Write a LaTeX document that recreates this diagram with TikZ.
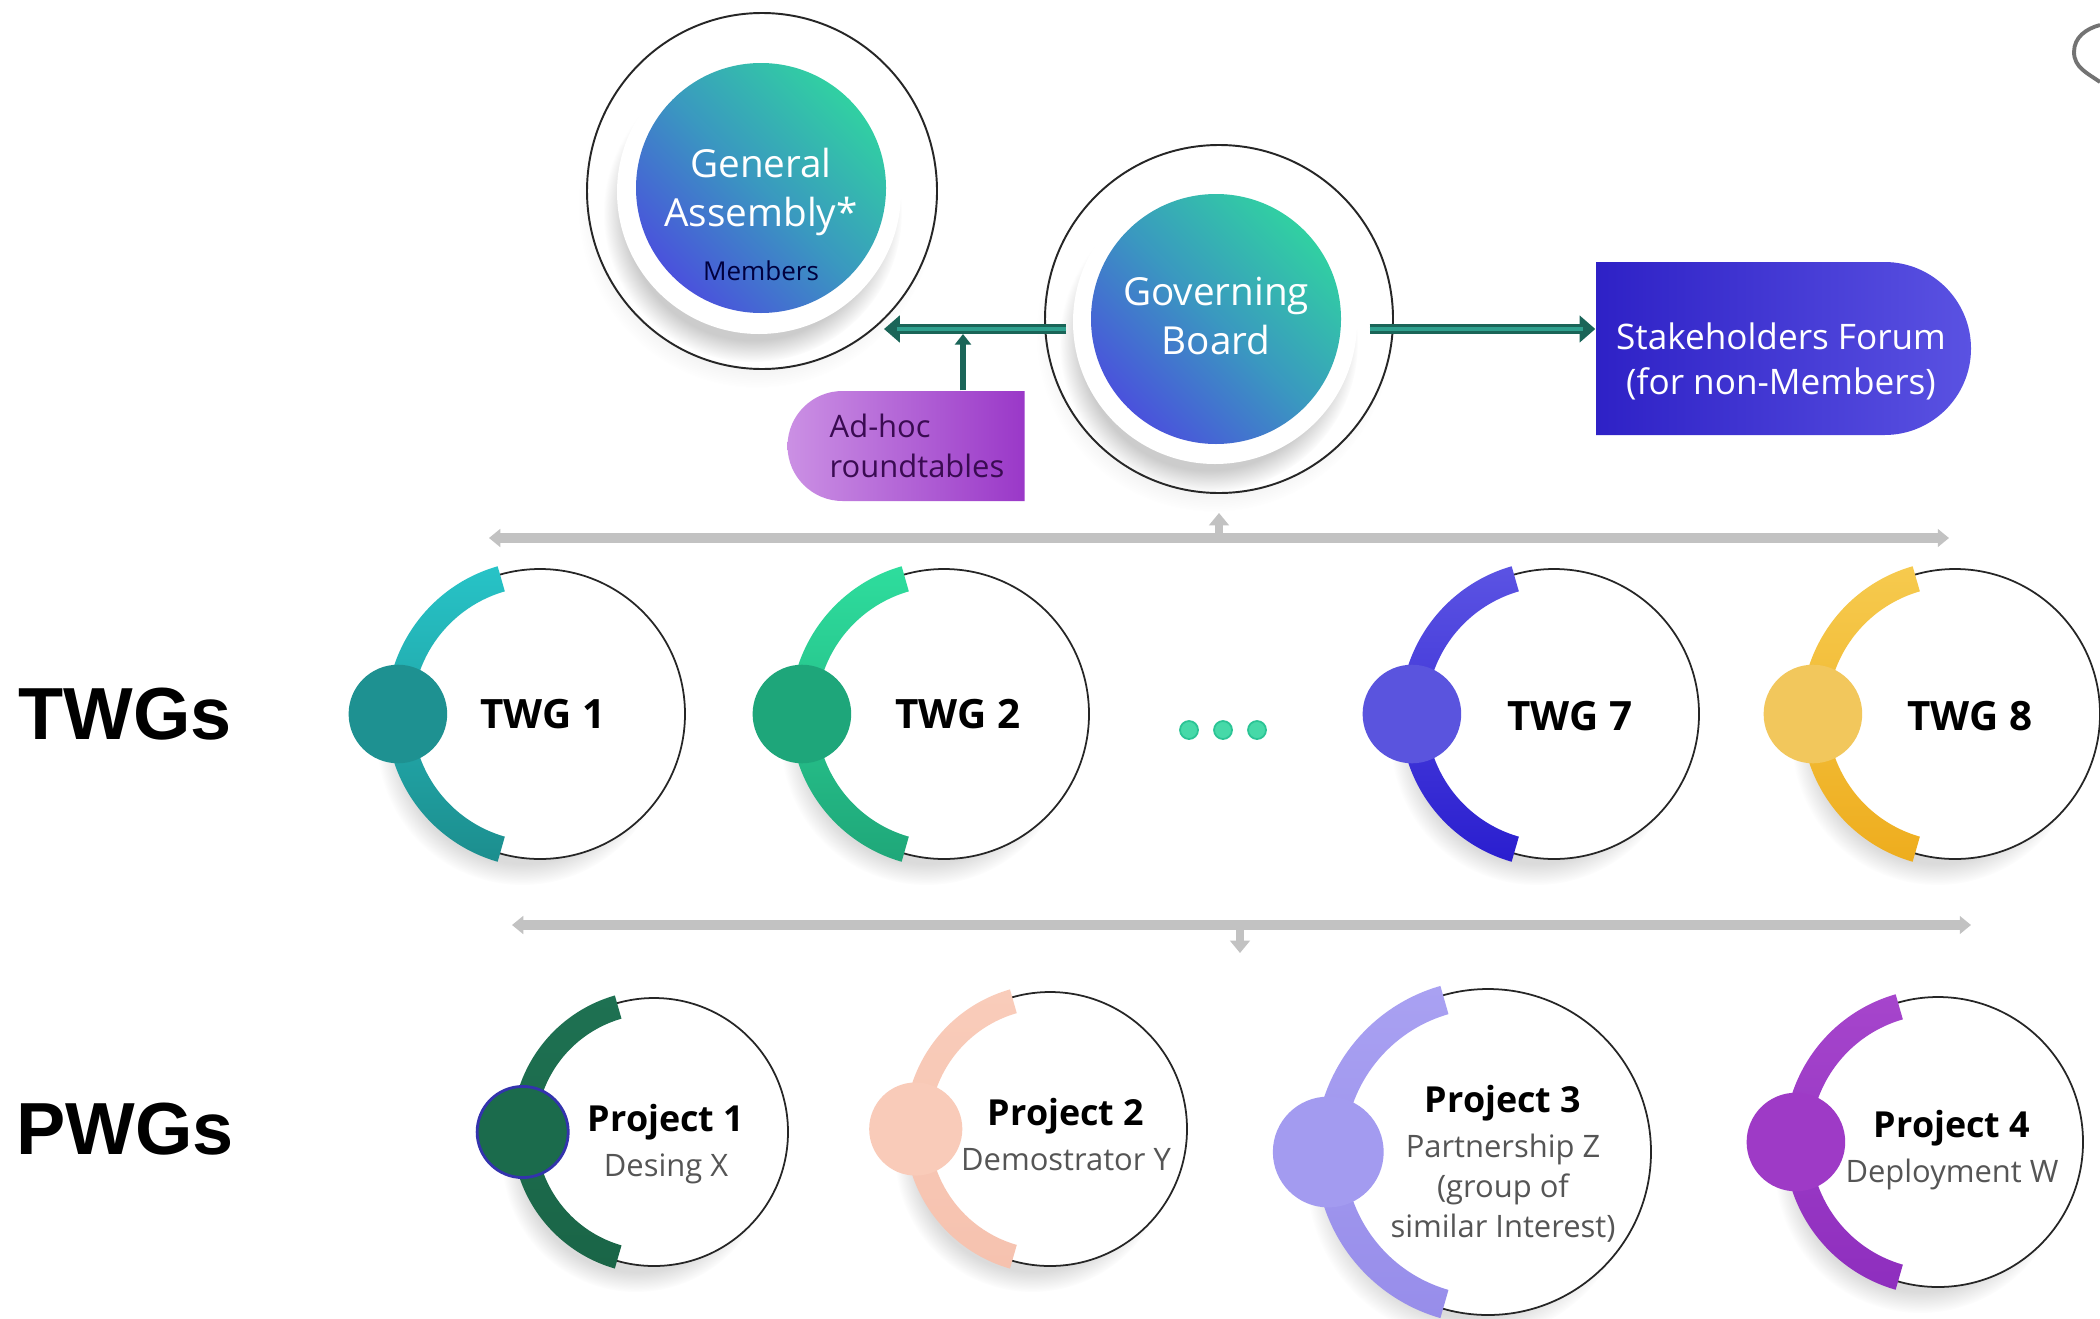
\documentclass[tikz,border=0pt]{standalone}
\usepackage{fontspec}
\setmainfont{Open Sans}
\newfontfamily\arialfont{Liberation Sans}
\usetikzlibrary{shapes.geometric,shapes.misc,shadows,calc,arrows.meta,fadings}
\definecolor{gTop}{HTML}{31D0A2}
\definecolor{gMid}{HTML}{3A98C0}
\definecolor{gBot}{HTML}{4A52DC}
\definecolor{tealD}{HTML}{1A6558}
\definecolor{tealL}{HTML}{2FA08E}
\definecolor{sfL}{HTML}{2E21C6}
\definecolor{sfR}{HTML}{5A52E2}
\definecolor{adL}{HTML}{CB90E4}
\definecolor{adR}{HTML}{9A38C8}
\definecolor{adT}{HTML}{3A0B52}
\definecolor{grayA}{HTML}{C2C2C2}
\definecolor{aT}{HTML}{27C3C7}\definecolor{aB}{HTML}{1C8E8E}\definecolor{kA}{HTML}{1E9191}
\definecolor{bT}{HTML}{2EDD9D}\definecolor{bB}{HTML}{1FA779}\definecolor{kB}{HTML}{1EA67A}
\definecolor{cT}{HTML}{5B53E3}\definecolor{cB}{HTML}{2A1ECF}\definecolor{kC}{HTML}{5A54DE}
\definecolor{dT}{HTML}{F6CA4E}\definecolor{dB}{HTML}{EEAD1E}\definecolor{kD}{HTML}{F2C75C}
\definecolor{p1T}{HTML}{1E7152}\definecolor{p1B}{HTML}{1A6547}\definecolor{p1K}{HTML}{1B6B4C}
\definecolor{p2T}{HTML}{F9CCBA}\definecolor{p2B}{HTML}{F6C2AF}\definecolor{p2K}{HTML}{F9CBB9}
\definecolor{p3T}{HTML}{A9A1F2}\definecolor{p3B}{HTML}{978DEA}\definecolor{p3K}{HTML}{A39BF0}
\definecolor{p4T}{HTML}{A645CC}\definecolor{p4B}{HTML}{8E2EBE}\definecolor{p4K}{HTML}{9E3AC6}
\definecolor{dotF}{HTML}{46D9A8}\definecolor{dotE}{HTML}{2BC495}
\definecolor{subT}{HTML}{555555}
\newcommand\myband[4]{\shade[top color=#3, bottom color=#4] ($(#1)+(106:{1.06*#2})$) arc[start angle=106, end angle=254, radius={1.06*#2}] -- ($(#1)+(254:{0.88*#2})$) arc[start angle=254, end angle=106, radius={0.88*#2}] -- cycle;}
\newcommand\mygroup[8]{%
  \node[wcirc, minimum size=#4*0.2mm] (#1) at (#2,#3) {};
  \myband{#1}{#4}{#5}{#6}
  \node[knob, fill=#7, minimum size=#4*0.068mm, #8] (#1k) at ($(#1)+(-0.98*#4,0)$) {};
}
\begin{document}
\begin{tikzpicture}[x=0.1mm,y=0.1mm,
  outerring/.style={draw=black!85, line width=0.55pt, fill=white, inner sep=0pt,
     circular drop shadow={shadow xshift=-0.5mm, shadow yshift=-1.5mm, opacity=0.12, shadow scale=1.02}},
  gdisc/.style={circle, inner sep=0pt, top color=gTop, bottom color=gBot, middle color=gMid, shading angle=-45},
  wtext/.style={text=white, align=center, font=\fontsize{11}{14}\selectfont},
  dblarrow/.style={tealL, line width=1.1pt, shorten >=3.6pt,
     preaction={draw=tealD, line width=2.7pt, shorten >=0pt, -{Triangle[length=4.5pt,width=7.5pt]}}},
  grayarrow/.style={grayA, line width=2.6pt, {Triangle[length=3.2pt,width=5pt]}-{Triangle[length=3.2pt,width=5pt]}},
  smallgray/.style={grayA, line width=2.2pt, -{Triangle[length=3.5pt,width=5.5pt]}},
  wcirc/.style={circle, draw=black!85, line width=0.5pt, fill=white, inner sep=0pt,
     circular drop shadow={shadow xshift=-1.8mm, shadow yshift=-2.6mm, opacity=0.28, shadow scale=1.0}},
  knob/.style={circle, inner sep=0pt},
  twgtext/.style={font=\bfseries\fontsize{11.5}{14}\selectfont},
  ptext/.style={align=center, text=subT, font=\fontsize{8.8}{11.3}\selectfont},
  sidelabel/.style={font=\arialfont\bfseries\fontsize{21}{24}\selectfont},
  ellipsis/.style={circle, fill=dotF, draw=dotE, line width=0.5pt, inner sep=0pt, minimum size=1.8mm}
]
\useasboundingbox (0,0) rectangle (2100,-1318);
\fill[white] (0,0) rectangle (2100,-1318);

% gray connector bars
\coordinate (g1l) at (489,-538);
\coordinate (g1r) at (1949,-538);
\coordinate (g2l) at (512,-925);
\coordinate (g2r) at (1971,-925);
\coordinate (g2m) at (1240,-925);
\coordinate (g2d) at (1240,-953);
\draw[grayarrow] (g1l) -- (g1r);
\draw[grayarrow] (g2l) -- (g2r);
\draw[smallgray] (g2m) -- (g2d);

% General Assembly
\node[outerring, ellipse, minimum width=35mm, minimum height=35.6mm] (gaout) at (762,-191) {};
\fill[white, circular drop shadow={shadow xshift=-0.6mm, shadow yshift=-2mm, opacity=0.4, shadow scale=1.05}] (759,-192) circle[radius=142];
\node[gdisc, minimum size=25mm] (ga) at (761,-188) {};
\node[wtext] (gatxt) at (761,-192) {General\\Assembly*};
\node[text=black!30!blue!35!black, font=\fontsize{7.4}{9}\selectfont] (gamem) at (761,-271) {Members};

% Governing Board
\node[outerring, circle, minimum size=34.8mm] (gbout) at (1219,-319) {};
\fill[white, circular drop shadow={shadow xshift=-0.6mm, shadow yshift=-2mm, opacity=0.4, shadow scale=1.05}] (1215,-322) circle[radius=142];
\node[gdisc, minimum size=25mm] (gb) at (1216,-319) {};
\node[wtext] (gbtxt) at (1216,-316) {Governing\\Board};

% Stakeholders Forum
\node[rounded rectangle, rounded rectangle left arc=none, minimum width=37.5mm, minimum height=17.3mm,
      left color=sfL, right color=sfR, inner sep=0pt] (sf) at (1783.5,-348.5) {};
\node[text=white, align=center, font=\fontsize{10}{12.8}\selectfont] (sftxt) at (1781,-361) {Stakeholders Forum\\(for non-Members)};

% Ad-hoc roundtables
\node[rounded rectangle, rounded rectangle right arc=none, minimum width=23.7mm, minimum height=11mm,
      left color=adL, right color=adR, inner sep=0pt] (adhoc) at (906,-446) {};
\node[anchor=west, text=adT, align=left, font=\fontsize{8.8}{11.2}\selectfont, inner sep=0pt] (adtxt) at (829,-446) {Ad-hoc\\roundtables};

% teal arrows
\coordinate (gaarr) at (884,-329);
\coordinate (adarr) at (963,-334);
\draw[dblarrow] ([xshift=-2.4mm]gb.west |- gaarr) -- (gaarr);
\draw[dblarrow] ([xshift=2.8mm]gb.east |- gaarr) -- (sf.west |- gaarr);
\draw[tealD, line width=1.7pt, -{Triangle[length=3pt,width=4.5pt]}] (adhoc.north -| adarr) -- (adarr);

% small up arrow to Governing Board
\draw[smallgray] (gbout.south |- g1l) -- ([yshift=-1.9mm]gbout.south);

% TWG row
\mygroup{t1}{540}{-714}{145}{aT}{aB}{kA}{}
\mygroup{t2}{944}{-714}{145}{bT}{bB}{kB}{}
\mygroup{t7}{1554}{-714}{145}{cT}{cB}{kC}{}
\mygroup{t8}{1955}{-714}{145}{dT}{dB}{kD}{}
\node[twgtext] (t1t) at (543,-714) {TWG 1};
\node[twgtext] (t2t) at (958,-714) {TWG 2};
\node[twgtext] (t7t) at (1570,-716) {TWG 7};
\node[twgtext] (t8t) at (1970,-716) {TWG 8};
\node[ellipsis] (e1) at (1189,-730) {};
\node[ellipsis] (e2) at (1223,-730) {};
\node[ellipsis] (e3) at (1257,-730) {};

% PWG row
\mygroup{p1}{654}{-1132}{134}{p1T}{p1B}{p1K}{draw=blue!60!black!80, line width=0.8pt}
\mygroup{p2}{1050}{-1129}{137}{p2T}{p2B}{p2K}{}
\mygroup{p3}{1488}{-1152}{163}{p3T}{p3B}{p3K}{}
\mygroup{p4}{1938}{-1142}{145}{p4T}{p4B}{p4K}{}
\node[ptext] (p1t) at (666,-1144) {{\color{black}\bfseries\fontsize{10.2}{12}\selectfont Project 1}\\[1.5pt]Desing X};
\node[ptext] (p2t) at (1066,-1135) {{\color{black}\bfseries\fontsize{10.2}{12}\selectfont Project 2}\\[1.5pt]Demostrator Y};
\node[ptext] (p3t) at (1503,-1164) {{\color{black}\bfseries\fontsize{10.2}{12}\selectfont Project 3}\\[1.5pt]Partnership Z\\(group of\\similar Interest)};
\node[ptext] (p4t) at (1952,-1150) {{\color{black}\bfseries\fontsize{10.2}{12}\selectfont Project 4}\\[1.5pt]Deployment W};

% side labels
\node[sidelabel] (twgs) at (125,-714) {TWGs};
\node[sidelabel] (pwgs) at (125,-1129) {PWGs};

% partial shape at top right
\draw[black!55, line width=1.1pt] (2100,-25) to[out=195,in=90] (2074,-52) to[out=-90,in=145] (2100,-82);
\end{tikzpicture}
\end{document}
